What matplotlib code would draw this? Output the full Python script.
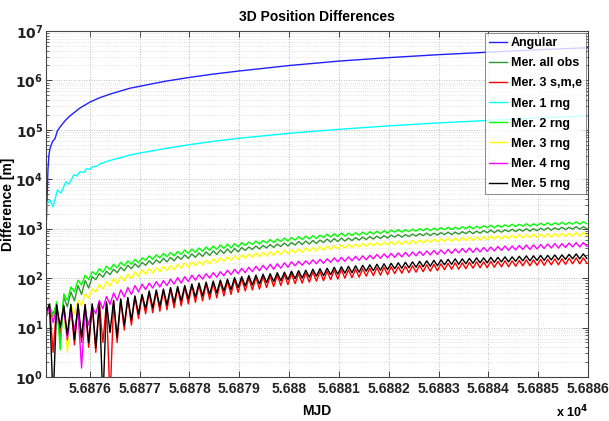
import numpy as np
import matplotlib
matplotlib.use("Agg")
import matplotlib.pyplot as plt
from matplotlib.ticker import FixedLocator, FuncFormatter, LogLocator, NullFormatter

plt.rcParams['font.family'] = ['Liberation Sans', 'DejaVu Sans']
plt.rcParams['font.weight'] = 'bold'

# --- Data (values are log10 of the 3D difference in m) ---

mjd_ref = 56875.0

# smooth curves: day offset from mjd_ref and log10 value
ang_day = [0.12, 0.14, 0.16, 0.18, 0.20, 0.25, 0.30, 0.35, 0.42, 0.50, 0.60, 0.70,
           0.80, 0.90, 1.0, 1.2, 1.4, 1.6, 1.8, 2.0, 2.5, 3.0, 3.5, 4.0, 5.0, 6.0,
           7.0, 8.0, 9.0, 10.0, 11.0]
ang_log = [2.95, 3.55, 4.20, 4.50, 4.62, 4.76, 4.82, 4.98, 5.08, 5.18, 5.28, 5.36,
           5.44, 5.50, 5.56, 5.65, 5.72, 5.78, 5.84, 5.88, 5.98, 6.06, 6.13, 6.19,
           6.30, 6.39, 6.46, 6.52, 6.57, 6.62, 6.66]

rng1_day = [0.12, 0.14, 0.20, 0.26, 0.35, 0.42, 0.52, 0.58, 0.68, 0.74, 0.80, 0.88,
            0.93, 1.0, 1.07, 1.14, 1.2, 1.4, 1.6, 1.8, 2.0, 2.5, 3.0, 3.5, 4.0, 5.0,
            6.0, 7.0, 8.0, 9.0, 10.0, 11.0]
rng1_log = [2.95, 3.50, 3.58, 3.44, 3.78, 3.72, 3.95, 3.90, 4.09, 4.07, 4.15, 4.14,
            4.21, 4.20, 4.26, 4.26, 4.31, 4.38, 4.43, 4.49, 4.53, 4.62, 4.70, 4.77,
            4.83, 4.93, 5.01, 5.08, 5.14, 5.19, 5.24, 5.28]

# oscillating curves: sampled every half period starting at sample_start,
# troughs (lo) and crests (hi) alternate, one row per day
sample_start = 56875.12
half_period = 1 / 14

all_lo = [1.22, 1.27, 0.70, 1.42, 1.54, 1.67, 1.80,
          1.97, 2.02, 2.07, 2.11, 2.15, 2.19, 2.22,
          2.26, 2.28, 2.31, 2.33, 2.35, 2.38, 2.40,
          2.42, 2.44, 2.46, 2.48, 2.50, 2.51, 2.53,
          2.56, 2.58, 2.59, 2.61, 2.62, 2.64, 2.65,
          2.67, 2.68, 2.69, 2.70, 2.72, 2.73, 2.74,
          2.75, 2.76, 2.77, 2.78, 2.79, 2.80, 2.81,
          2.83, 2.83, 2.84, 2.85, 2.86, 2.86, 2.87,
          2.88, 2.88, 2.89, 2.90, 2.90, 2.91, 2.92,
          2.92, 2.93, 2.94, 2.94, 2.95, 2.95, 2.96,
          2.97, 2.97, 2.98, 2.98, 2.99, 2.99, 3.00]
all_hi = [1.42, 1.48, 1.62, 1.72, 1.85, 1.95, 2.03,
          2.09, 2.14, 2.18, 2.22, 2.26, 2.29, 2.32,
          2.35, 2.37, 2.40, 2.42, 2.44, 2.47, 2.49,
          2.51, 2.53, 2.55, 2.57, 2.59, 2.60, 2.62,
          2.63, 2.65, 2.66, 2.68, 2.69, 2.71, 2.72,
          2.74, 2.75, 2.76, 2.77, 2.79, 2.80, 2.81,
          2.81, 2.82, 2.83, 2.84, 2.85, 2.86, 2.87,
          2.88, 2.88, 2.89, 2.90, 2.91, 2.91, 2.92,
          2.93, 2.93, 2.94, 2.95, 2.95, 2.96, 2.97,
          2.97, 2.98, 2.99, 2.99, 3.00, 3.00, 3.01,
          3.02, 3.02, 3.03, 3.03, 3.04, 3.04]

sme_lo = [1.25, 0.50, 0.90, 0.75, 0.65, 0.70, 0.60,
          0.50, 0.70, -0.50, 0.70, 0.95, 1.05, 1.18,
          1.28, 1.30, 1.33, 1.36, 1.40, 1.44, 1.48,
          1.51, 1.54, 1.57, 1.60, 1.64, 1.67, 1.71,
          1.74, 1.76, 1.78, 1.81, 1.83, 1.85, 1.87,
          1.89, 1.90, 1.92, 1.94, 1.95, 1.97, 1.98,
          2.00, 2.01, 2.02, 2.04, 2.05, 2.06, 2.07,
          2.09, 2.10, 2.11, 2.12, 2.13, 2.14, 2.15,
          2.17, 2.18, 2.18, 2.19, 2.20, 2.21, 2.21,
          2.22, 2.23, 2.23, 2.24, 2.25, 2.25, 2.26,
          2.26, 2.27, 2.27, 2.28, 2.29, 2.29, 2.30]
sme_hi = [1.46, 1.44, 1.43, 1.45, 1.46, 1.45, 1.46,
          1.48, 1.50, 1.53, 1.56, 1.59, 1.62, 1.65,
          1.71, 1.73, 1.75, 1.78, 1.80, 1.82, 1.85,
          1.86, 1.88, 1.90, 1.92, 1.94, 1.97, 1.99,
          2.00, 2.01, 2.03, 2.04, 2.06, 2.07, 2.09,
          2.09, 2.10, 2.12, 2.13, 2.14, 2.16, 2.17,
          2.17, 2.18, 2.19, 2.20, 2.21, 2.22, 2.23,
          2.23, 2.24, 2.25, 2.26, 2.27, 2.28, 2.29,
          2.30, 2.31, 2.31, 2.32, 2.33, 2.33, 2.34,
          2.34, 2.35, 2.35, 2.36, 2.37, 2.37, 2.38,
          2.38, 2.39, 2.39, 2.40, 2.41, 2.41]

rng2_lo = [1.25, 1.20, 0.55, 1.55, 1.72, 1.86, 1.97,
           2.07, 2.12, 2.17, 2.21, 2.25, 2.28, 2.31,
           2.36, 2.38, 2.41, 2.43, 2.45, 2.48, 2.50,
           2.52, 2.54, 2.56, 2.58, 2.60, 2.61, 2.63,
           2.66, 2.68, 2.69, 2.71, 2.72, 2.74, 2.75,
           2.77, 2.78, 2.79, 2.80, 2.82, 2.83, 2.84,
           2.85, 2.86, 2.87, 2.88, 2.89, 2.90, 2.91,
           2.93, 2.93, 2.94, 2.95, 2.96, 2.96, 2.97,
           2.98, 2.98, 2.99, 3.00, 3.00, 3.01, 3.02,
           3.02, 3.03, 3.04, 3.04, 3.05, 3.05, 3.06,
           3.07, 3.07, 3.08, 3.08, 3.09, 3.09, 3.10]
rng2_hi = [1.45, 1.52, 1.68, 1.82, 1.96, 2.06, 2.13,
           2.19, 2.24, 2.28, 2.32, 2.35, 2.38, 2.41,
           2.45, 2.47, 2.50, 2.52, 2.54, 2.57, 2.59,
           2.61, 2.63, 2.65, 2.67, 2.69, 2.70, 2.72,
           2.73, 2.75, 2.76, 2.78, 2.79, 2.81, 2.82,
           2.84, 2.85, 2.86, 2.87, 2.89, 2.90, 2.91,
           2.91, 2.92, 2.93, 2.94, 2.95, 2.96, 2.97,
           2.98, 2.98, 2.99, 3.00, 3.01, 3.01, 3.02,
           3.03, 3.03, 3.04, 3.05, 3.05, 3.06, 3.07,
           3.07, 3.08, 3.09, 3.09, 3.10, 3.10, 3.11,
           3.12, 3.12, 3.13, 3.13, 3.14, 3.14]

rng3_lo = [1.22, 1.15, 1.05, 0.50, 1.28, 1.45, 1.60,
           1.72, 1.78, 1.84, 1.89, 1.94, 1.99, 2.03,
           2.08, 2.10, 2.13, 2.15, 2.17, 2.20, 2.22,
           2.25, 2.27, 2.29, 2.32, 2.34, 2.36, 2.38,
           2.40, 2.42, 2.43, 2.45, 2.46, 2.48, 2.49,
           2.51, 2.52, 2.54, 2.55, 2.56, 2.58, 2.59,
           2.61, 2.62, 2.63, 2.64, 2.65, 2.66, 2.67,
           2.68, 2.68, 2.69, 2.70, 2.71, 2.72, 2.73,
           2.74, 2.74, 2.75, 2.76, 2.76, 2.77, 2.78,
           2.79, 2.79, 2.80, 2.81, 2.81, 2.82, 2.82,
           2.83, 2.83, 2.84, 2.84, 2.85, 2.85, 2.86]
rng3_hi = [1.40, 1.35, 1.40, 1.45, 1.55, 1.68, 1.78,
           1.87, 1.93, 1.99, 2.04, 2.08, 2.13, 2.17,
           2.19, 2.21, 2.24, 2.26, 2.28, 2.31, 2.33,
           2.34, 2.36, 2.39, 2.41, 2.43, 2.45, 2.47,
           2.49, 2.51, 2.52, 2.54, 2.55, 2.57, 2.58,
           2.59, 2.61, 2.62, 2.64, 2.65, 2.66, 2.67,
           2.68, 2.69, 2.70, 2.71, 2.72, 2.73, 2.74,
           2.75, 2.75, 2.76, 2.77, 2.78, 2.79, 2.80,
           2.81, 2.81, 2.82, 2.83, 2.83, 2.84, 2.85,
           2.86, 2.86, 2.87, 2.88, 2.88, 2.89, 2.89,
           2.90, 2.90, 2.91, 2.91, 2.92, 2.92]

rng4_lo = [1.20, 1.10, 1.00, 0.75, 0.95, 0.18, 1.05,
           1.28, 1.38, 1.47, 1.55, 1.62, 1.67, 1.72,
           1.77, 1.80, 1.82, 1.85, 1.88, 1.90, 1.93,
           1.96, 1.98, 2.00, 2.02, 2.05, 2.07, 2.09,
           2.11, 2.13, 2.15, 2.17, 2.18, 2.20, 2.22,
           2.25, 2.26, 2.28, 2.29, 2.30, 2.32, 2.33,
           2.34, 2.35, 2.36, 2.37, 2.39, 2.40, 2.41,
           2.42, 2.43, 2.44, 2.45, 2.46, 2.47, 2.48,
           2.49, 2.50, 2.51, 2.52, 2.52, 2.53, 2.54,
           2.55, 2.56, 2.56, 2.57, 2.58, 2.58, 2.59,
           2.60, 2.61, 2.61, 2.62, 2.63, 2.63, 2.64]
rng4_hi = [1.42, 1.40, 1.38, 1.35, 1.33, 1.36, 1.42,
           1.55, 1.63, 1.70, 1.76, 1.81, 1.85, 1.88,
           1.90, 1.93, 1.95, 1.98, 2.01, 2.03, 2.06,
           2.07, 2.09, 2.11, 2.13, 2.16, 2.18, 2.20,
           2.22, 2.24, 2.26, 2.28, 2.29, 2.31, 2.33,
           2.34, 2.35, 2.37, 2.38, 2.39, 2.41, 2.42,
           2.43, 2.44, 2.45, 2.46, 2.48, 2.49, 2.50,
           2.51, 2.52, 2.53, 2.54, 2.55, 2.56, 2.57,
           2.58, 2.59, 2.60, 2.61, 2.61, 2.62, 2.63,
           2.64, 2.65, 2.65, 2.66, 2.67, 2.67, 2.68,
           2.69, 2.70, 2.70, 2.71, 2.72, 2.72]

rng5_lo = [1.30, -0.50, 1.00, 0.85, 0.75, 0.80, 0.69,
           0.60, -0.50, 0.90, 0.80, 1.05, 1.15, 1.28,
           1.38, 1.40, 1.43, 1.46, 1.50, 1.54, 1.58,
           1.61, 1.64, 1.67, 1.70, 1.74, 1.77, 1.81,
           1.84, 1.86, 1.88, 1.91, 1.93, 1.95, 1.97,
           1.99, 2.00, 2.02, 2.04, 2.05, 2.07, 2.08,
           2.10, 2.11, 2.12, 2.14, 2.15, 2.16, 2.17,
           2.19, 2.20, 2.21, 2.22, 2.23, 2.24, 2.25,
           2.27, 2.28, 2.28, 2.29, 2.30, 2.31, 2.31,
           2.32, 2.33, 2.33, 2.34, 2.35, 2.35, 2.36,
           2.36, 2.37, 2.37, 2.38, 2.39, 2.39, 2.40]
rng5_hi = [1.48, 1.46, 1.45, 1.47, 1.48, 1.47, 1.48,
           1.50, 1.52, 1.55, 1.58, 1.61, 1.64, 1.67,
           1.74, 1.76, 1.78, 1.81, 1.83, 1.85, 1.88,
           1.90, 1.92, 1.94, 1.96, 1.98, 2.01, 2.03,
           2.05, 2.06, 2.08, 2.09, 2.11, 2.12, 2.14,
           2.15, 2.16, 2.18, 2.19, 2.20, 2.22, 2.23,
           2.24, 2.25, 2.26, 2.27, 2.28, 2.29, 2.30,
           2.31, 2.32, 2.33, 2.34, 2.35, 2.36, 2.37,
           2.38, 2.39, 2.39, 2.40, 2.41, 2.41, 2.42,
           2.42, 2.43, 2.43, 2.44, 2.45, 2.45, 2.46,
           2.46, 2.47, 2.47, 2.48, 2.49, 2.49]

labels = ["Angular", "Mer. all obs", "Mer. 3 s,m,e", "Mer. 1 rng",
          "Mer. 2 rng", "Mer. 3 rng", "Mer. 4 rng", "Mer. 5 rng"]
colors = ["#2020ff", "#2f962f", "#ff0000", "#00ffff",
          "#00ff00", "#ffff00", "#ff00ff", "#000000"]


def interleave(lo, hi):
    y = np.empty(len(lo) + len(hi))
    y[0::2] = lo
    y[1::2] = hi
    return y


osc = [interleave(all_lo, all_hi), interleave(sme_lo, sme_hi),
       interleave(rng2_lo, rng2_hi), interleave(rng3_lo, rng3_hi),
       interleave(rng4_lo, rng4_hi), interleave(rng5_lo, rng5_hi)]
t_osc = sample_start + half_period * np.arange(len(osc[0]))

series = [
    (mjd_ref + np.array(ang_day), np.array(ang_log)),
    (t_osc, osc[0]),
    (t_osc, osc[1]),
    (mjd_ref + np.array(rng1_day), np.array(rng1_log)),
    (t_osc, osc[2]),
    (t_osc, osc[3]),
    (t_osc, osc[4]),
    (t_osc, osc[5]),
]

# --- Plot ---

fig = plt.figure(figsize=(6.09, 4.21), dpi=100)
ax = fig.add_axes([0.0755, 0.1045, 0.89, 0.822])

for (x, ylog), lab, col in zip(series, labels, colors):
    ax.plot(x, 10 ** ylog, color=col, lw=1.0, label=lab)

ax.set_yscale('log')
ax.set_xlim(56875.12, 56886)
ax.set_ylim(1, 1e7)

ax.xaxis.set_major_locator(FixedLocator(np.arange(56876, 56887)))
ax.xaxis.set_major_formatter(FuncFormatter(lambda v, p: f"{v / 1e4:.4f}".rstrip('0')))
ax.yaxis.set_major_locator(LogLocator(base=10, numticks=10))
ax.yaxis.set_minor_locator(LogLocator(base=10, subs=np.arange(2, 10), numticks=100))
ax.yaxis.set_minor_formatter(NullFormatter())
ax.yaxis.set_major_formatter(FuncFormatter(
    lambda v, p: r"$\mathbf{10^{%d}}$" % round(np.log10(v))))

ax.tick_params(which='both', direction='in', top=True, right=True,
               labelsize=10, colors='#222222')
ax.tick_params(axis='y', pad=2)
ax.tick_params(which='major', length=4, width=0.6)
ax.tick_params(which='minor', length=2, width=0.5)
for lab in ax.get_xticklabels() + ax.get_yticklabels():
    lab.set_fontweight('bold')

ax.grid(True, which='major', ls=(0, (1, 2)), color='#a8a8a8', lw=0.6)
ax.grid(True, which='minor', axis='y', ls=(0, (1, 2)), color='#cccccc', lw=0.5)
for s in ax.spines.values():
    s.set_color('#444444')
    s.set_linewidth(0.8)

ax.set_title("3D Position Differences", fontsize=10, fontweight='bold', pad=7)
ax.set_xlabel("MJD", fontsize=10, fontweight='bold')
ax.set_ylabel("Difference [m]", fontsize=10, fontweight='bold')
ax.xaxis.set_label_coords(0.5, -0.078)
ax.yaxis.set_label_coords(-0.058, 0.5)
ax.text(1.0, -0.1, r"x 10$^{\mathbf{4}}$", transform=ax.transAxes,
        ha='right', va='center', fontsize=9, fontweight='bold')

leg = ax.legend(loc='upper right', fontsize=9, frameon=True, fancybox=False,
                borderaxespad=0.15, handlelength=1.4, handletextpad=0.3,
                labelspacing=0.65, borderpad=0.35)
leg.get_frame().set_edgecolor('#555555')
leg.get_frame().set_linewidth(0.6)
for txt in leg.get_texts():
    txt.set_fontweight('bold')

fig.savefig("out.png", dpi=100, facecolor='white')
